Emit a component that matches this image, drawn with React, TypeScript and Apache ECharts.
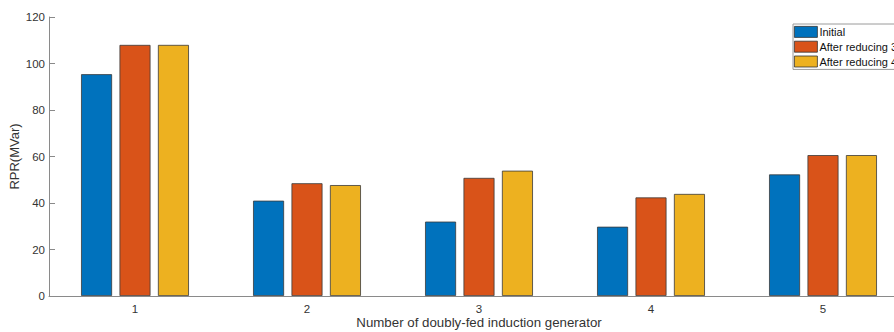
import React, { useEffect, useRef } from "react";
import * as echarts from "echarts";

// Category labels along the x axis (generator number)
const categories = ["1", "2", "3", "4", "5"];

// Reactive power reserve per case, MVar
const initial = [95.4, 41.0, 32.0, 29.8, 52.3];
const reduced3 = [108.0, 48.5, 50.8, 42.4, 60.6];
const reduced4 = [108.0, 47.7, 53.9, 43.9, 60.6];

const seriesNames = ["Initial", "After reducing 3", "After reducing 4"];
const seriesColors = ["#0072BD", "#D95319", "#EDB120"];

// y axis range
const yMin = 0;
const yMax = 120;
const yStep = 20;

const FONT = "'Liberation Sans', Arial, Helvetica, sans-serif";
const AXIS_GRAY = "#8a8a8a";
const TEXT_COLOR = "#333333";

export default function App() {
  const ref = useRef<HTMLDivElement>(null);

  useEffect(() => {
    if (!ref.current) return;
    const chart = echarts.init(ref.current, undefined, { renderer: "svg" });

    const values = [initial, reduced3, reduced4];

    chart.setOption({
      animation: false,
      backgroundColor: "#ffffff",
      textStyle: { fontFamily: FONT },
      grid: {
        left: 49,
        top: 17,
        width: 860,
        height: 279,
        outerBoundsMode: "none",
        containLabel: false,
      },
      legend: {
        orient: "vertical",
        left: 793,
        top: 24,
        padding: [2, 2, 2, 1],
        itemWidth: 23,
        itemHeight: 11,
        itemGap: 3,
        borderColor: "#9a9a9a",
        borderWidth: 1,
        backgroundColor: "#ffffff",
        icon: "rect",
        itemStyle: { borderColor: "#333333", borderWidth: 0.8 },
        textStyle: {
          fontFamily: FONT,
          fontSize: 11,
          color: "#111111",
          lineHeight: 11,
          padding: [0, 0, 0, -3],
          width: 100,
        },
        data: seriesNames,
      },
      xAxis: {
        type: "category",
        data: categories,
        name: "Number of doubly-fed induction generator",
        nameLocation: "middle",
        nameGap: 20,
        nameMoveOverlap: false,
        nameTextStyle: { fontFamily: FONT, fontSize: 13.3, color: TEXT_COLOR },
        axisLine: { lineStyle: { color: AXIS_GRAY, width: 1 } },
        axisTick: {
          inside: true,
          alignWithLabel: true,
          length: 7,
          lineStyle: { color: "#555555", width: 1 },
        },
        axisLabel: { fontFamily: FONT, fontSize: 11.5, color: TEXT_COLOR, margin: 7 },
        splitLine: { show: false },
        z: 5,
      },
      yAxis: {
        type: "value",
        min: yMin,
        max: yMax,
        interval: yStep,
        name: "RPR(MVar)",
        nameLocation: "middle",
        nameRotate: 90,
        nameGap: 28,
        nameMoveOverlap: false,
        nameTextStyle: { fontFamily: FONT, fontSize: 13, color: TEXT_COLOR },
        axisLine: { show: true, lineStyle: { color: AXIS_GRAY, width: 1 } },
        axisTick: {
          show: true,
          inside: true,
          length: 6,
          lineStyle: { color: AXIS_GRAY, width: 1 },
        },
        axisLabel: { fontFamily: FONT, fontSize: 11.5, color: TEXT_COLOR, margin: 4 },
        splitLine: { show: false },
      },
      series: seriesNames.map((name, i) => ({
        name,
        type: "bar",
        data: values[i],
        barWidth: 31,
        barGap: "24%",
        itemStyle: {
          color: seriesColors[i],
          borderColor: "#3a3a3a",
          borderWidth: 0.8,
        },
      })),
    });

    return () => chart.dispose();
  }, []);

  return (
    <div
      ref={ref}
      style={{ position: "fixed", left: 0, top: 0, width: 894, height: 332 }}
    />
  );
}
